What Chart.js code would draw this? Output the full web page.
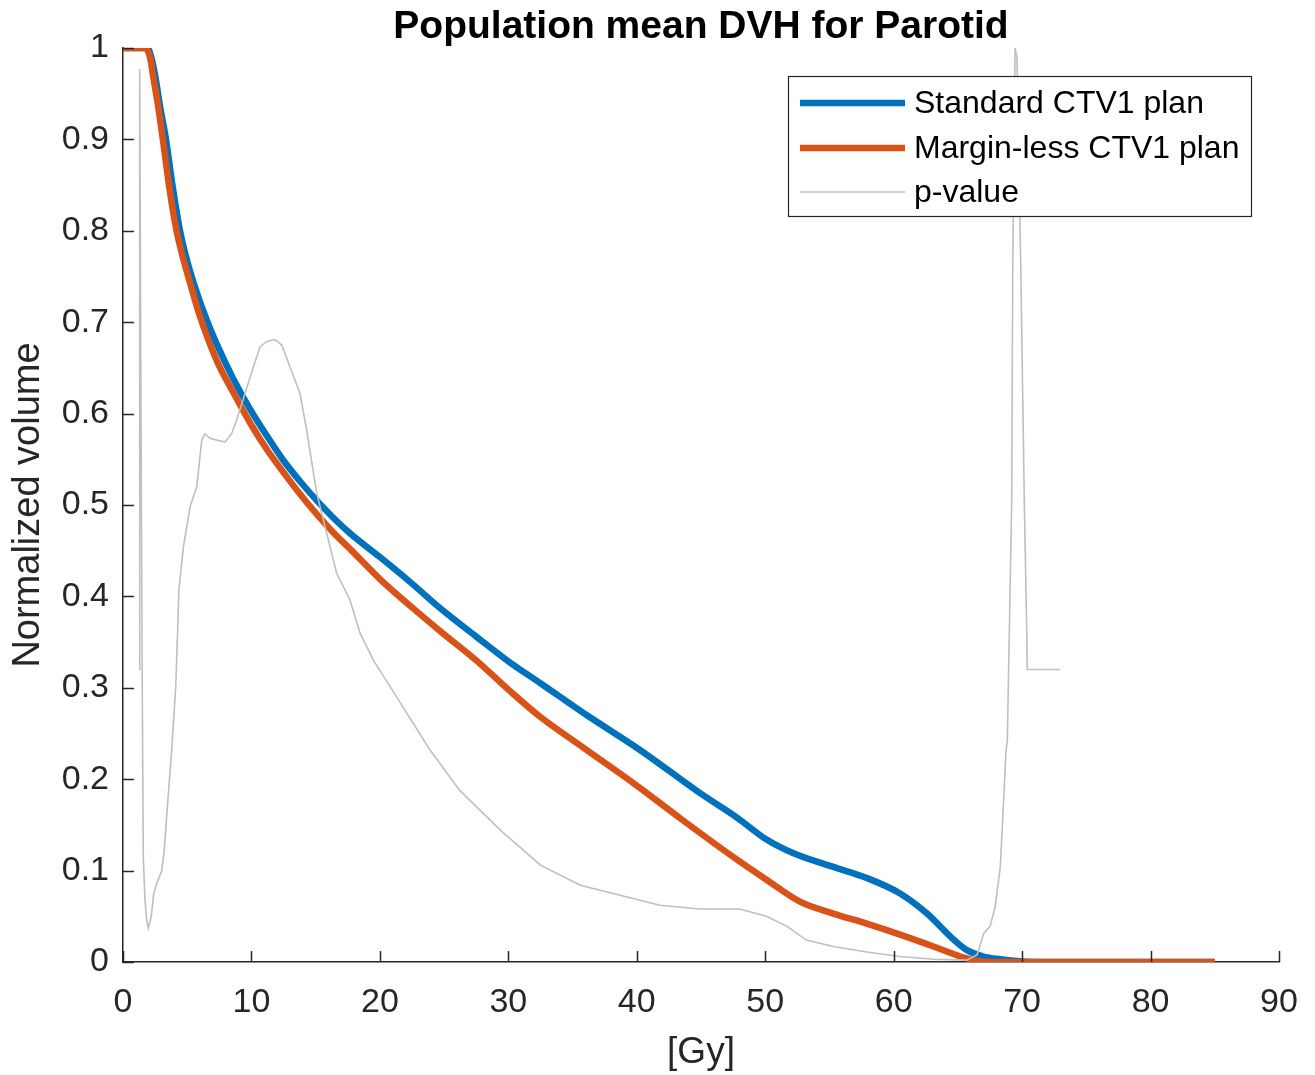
<!DOCTYPE html>
<html>
<head>
<meta charset="utf-8">
<script src="https://cdn.jsdelivr.net/npm/chart.js@4.4.1/dist/chart.umd.min.js"></script>
<style>
  html, body { margin: 0; padding: 0; background: #ffffff; }
  #wrap { position: relative; width: 1315px; height: 1075px; }
</style>
</head>
<body>
<div id="wrap"><canvas id="c"></canvas></div>
<script>
// ---- Data ----
const chartTitle = 'Population mean DVH for Parotid';
const xAxisTitle = '[Gy]';
const yAxisTitle = 'Normalized volume';
const seriesNames = ['Standard CTV1 plan', 'Margin-less CTV1 plan', 'p-value'];
const xTicks = [0, 10, 20, 30, 40, 50, 60, 70, 80, 90];
const yTicks = [0, 0.1, 0.2, 0.3, 0.4, 0.5, 0.6, 0.7, 0.8, 0.9, 1];

const doseStd = [0, 1.9, 2.2, 2.5, 2.9, 3.35, 3.85, 4.4, 4.9, 5.5, 6.5, 7.3, 8.59, 9.89, 11.19, 12.48, 13.78, 15.08, 16.37, 17.67, 20, 22.5, 24.7, 27.5, 30, 32.5, 36, 40.25, 44.9, 47.8, 50.1, 52.2, 55.3, 57.9, 60.5, 62.6, 64.4, 65.7, 67, 68.3, 69.6, 71, 85];
const volStd  = [1, 1, 0.99, 0.97, 0.935, 0.9, 0.85, 0.803, 0.772, 0.743, 0.703, 0.676, 0.638, 0.605, 0.576, 0.549, 0.526, 0.505, 0.486, 0.469, 0.443, 0.414, 0.387, 0.356, 0.329, 0.305, 0.271, 0.232, 0.185, 0.158, 0.134, 0.119, 0.104, 0.092, 0.075, 0.053, 0.028, 0.013, 0.006, 0.003, 0.001, 0, 0];

const doseMargin = [0, 1.7, 2.1, 2.36, 2.75, 3.1, 3.6, 4.1, 4.6, 5.2, 6.0, 7.3, 8.59, 9.89, 11.19, 12.48, 13.78, 15.08, 16.37, 17.67, 20, 22.5, 24.7, 27.5, 30, 32.5, 36, 40, 43.4, 47.5, 50.1, 52.7, 55.3, 57.9, 60.5, 63.1, 65.2, 66.5, 67.5, 85];
const volMargin  = [1, 1, 0.99, 0.968, 0.935, 0.9, 0.848, 0.805, 0.774, 0.744, 0.706, 0.658, 0.623, 0.59, 0.561, 0.536, 0.512, 0.49, 0.47, 0.452, 0.419, 0.388, 0.362, 0.33, 0.298, 0.268, 0.233, 0.193, 0.157, 0.115, 0.09, 0.066, 0.053, 0.042, 0.03, 0.017, 0.006, 0.0015, 0, 0];

const dosePval = [1.25, 1.3, 1.4, 1.5, 1.58, 1.71, 1.85, 1.97, 2.2, 2.4, 2.62, 3.0, 3.2, 3.4, 3.79, 4.1, 4.25, 4.35, 4.7, 5.22, 5.74, 6.13, 6.38, 6.77, 7.3, 7.94, 8.46, 8.85, 9.5, 10.15, 10.67, 11.19, 11.83, 12.36, 13.0, 13.78, 14.3, 15.08, 15.86, 16.64, 16.9, 17.67, 18.45, 19.5, 21.3, 23.9, 26.2, 29.4, 32.5, 35.6, 38.7, 41.8, 44.9, 48.0, 50.1, 51.7, 53.2, 55.3, 57.9, 60.5, 63.1, 65.7, 66.5, 67.0, 67.5, 67.9, 68.3, 68.5, 68.75, 68.85, 69.19, 69.27, 69.45, 69.6, 69.9, 70.17, 70.36, 70.4, 72.95];
const pval     = [0.32, 0.977, 0.6, 0.3, 0.115, 0.068, 0.045, 0.037, 0.05, 0.075, 0.086, 0.099, 0.12, 0.159, 0.232, 0.3, 0.36, 0.407, 0.454, 0.498, 0.52, 0.571, 0.578, 0.573, 0.571, 0.569, 0.578, 0.593, 0.622, 0.651, 0.673, 0.679, 0.681, 0.675, 0.651, 0.622, 0.582, 0.513, 0.469, 0.425, 0.418, 0.396, 0.36, 0.33, 0.29, 0.232, 0.188, 0.144, 0.106, 0.084, 0.073, 0.062, 0.058, 0.058, 0.05, 0.039, 0.024, 0.017, 0.011, 0.006, 0.003, 0.002, 0.008, 0.031, 0.039, 0.06, 0.104, 0.159, 0.232, 0.243, 0.505, 0.757, 1.0, 0.99, 0.757, 0.505, 0.361, 0.32, 0.32];

const colors = ['#0072BD', '#D95319', '#BFBFBF'];
const widths = [6.5, 6.5, 1.6];

function pts(xs, ys) { return xs.map((x, i) => ({ x: x, y: ys[i] })); }

const FONT = '"Liberation Sans", Arial, Helvetica, sans-serif';
const INK = '#262626';

// Inward tick marks (MATLAB style)
const inwardTicks = {
  id: 'inwardTicks',
  afterDatasetsDraw(chart) {
    const ctx = chart.ctx, a = chart.chartArea;
    const xs = chart.scales.x, ys = chart.scales.y;
    ctx.save();
    ctx.strokeStyle = INK;
    ctx.lineWidth = 1.5;
    ctx.beginPath();
    xTicks.forEach(v => {
      const px = Math.round(xs.getPixelForValue(v)) + 0.5;
      ctx.moveTo(px, a.bottom);
      ctx.lineTo(px, a.bottom - 11);
    });
    yTicks.forEach(v => {
      const py = Math.round(ys.getPixelForValue(v)) + 0.5;
      ctx.moveTo(a.left, py);
      ctx.lineTo(a.left + 11, py);
    });
    ctx.stroke();
    ctx.restore();
  }
};

// Title centred over the plot area
const plotTitle = {
  id: 'plotTitle',
  afterDraw(chart) {
    const ctx = chart.ctx, a = chart.chartArea;
    ctx.save();
    ctx.fillStyle = '#000000';
    ctx.font = 'bold 39px ' + FONT;
    ctx.textAlign = 'center';
    ctx.textBaseline = 'middle';
    ctx.fillText(chartTitle, (a.left + a.right) / 2, 27);
    ctx.restore();
  }
};

// Legend box inside the plot, top right
const boxLegend = {
  id: 'boxLegend',
  afterDraw(chart) {
    const ctx = chart.ctx;
    const x0 = 788, y0 = 76, w = 463, h = 140;
    ctx.save();
    ctx.fillStyle = '#ffffff';
    ctx.fillRect(x0, y0, w, h);
    ctx.strokeStyle = INK;
    ctx.lineWidth = 1.2;
    ctx.strokeRect(x0 + 0.5, y0 + 0.5, w, h);
    const rows = [103, 148, 192];
    chart.data.datasets.forEach((ds, i) => {
      ctx.strokeStyle = ds.borderColor;
      ctx.lineWidth = ds.borderWidth;
      ctx.beginPath();
      ctx.moveTo(800, rows[i]);
      ctx.lineTo(905, rows[i]);
      ctx.stroke();
      ctx.fillStyle = '#000000';
      ctx.font = '32px ' + FONT;
      ctx.textBaseline = 'middle';
      ctx.textAlign = 'left';
      ctx.fillText(ds.label, 914, rows[i] + 1);
    });
    ctx.restore();
  }
};

new Chart(document.getElementById('c'), {
  type: 'line',
  data: {
    datasets: [
      { label: seriesNames[0], data: pts(doseStd, volStd), borderColor: colors[0], backgroundColor: colors[0], borderWidth: widths[0], pointRadius: 0, cubicInterpolationMode: 'monotone', order: 3 },
      { label: seriesNames[1], data: pts(doseMargin, volMargin), borderColor: colors[1], backgroundColor: colors[1], borderWidth: widths[1], pointRadius: 0, cubicInterpolationMode: 'monotone', order: 2 },
      { label: seriesNames[2], data: pts(dosePval, pval), borderColor: colors[2], backgroundColor: colors[2], borderWidth: widths[2], pointRadius: 0, tension: 0, order: 1 }
    ]
  },
  options: {
    responsive: true,
    maintainAspectRatio: false,
    animation: false,
    events: [],
    layout: { padding: { left: 0, right: 36, top: 48, bottom: 0 } },
    plugins: {
      legend: { display: false },
      tooltip: { enabled: false },
      title: { display: false }
    },
    scales: {
      x: {
        type: 'linear',
        min: 0, max: 90,
        afterBuildTicks(s) { s.ticks = xTicks.map(v => ({ value: v })); },
        afterFit(s) { s.height = 113; },
        border: { display: true, color: INK, width: 1.5 },
        grid: { display: false },
        ticks: { color: INK, font: { family: FONT, size: 34 }, padding: 12, maxRotation: 0 },
        title: { display: true, text: xAxisTitle, color: INK, font: { family: FONT, size: 37 }, padding: { top: 0, bottom: 0 } }
      },
      y: {
        type: 'linear',
        min: 0, max: 1,
        afterBuildTicks(s) { s.ticks = yTicks.map(v => ({ value: v })); },
        afterFit(s) { s.width = 123; },
        border: { display: true, color: INK, width: 1.5 },
        grid: { display: false },
        ticks: { color: INK, font: { family: FONT, size: 34 }, padding: 6, callback: v => String(v) },
        title: { display: true, text: yAxisTitle, color: INK, font: { family: FONT, size: 38 }, padding: { top: 6, bottom: 0 } }
      }
    }
  },
  plugins: [inwardTicks, plotTitle, boxLegend]
});
</script>
</body>
</html>
